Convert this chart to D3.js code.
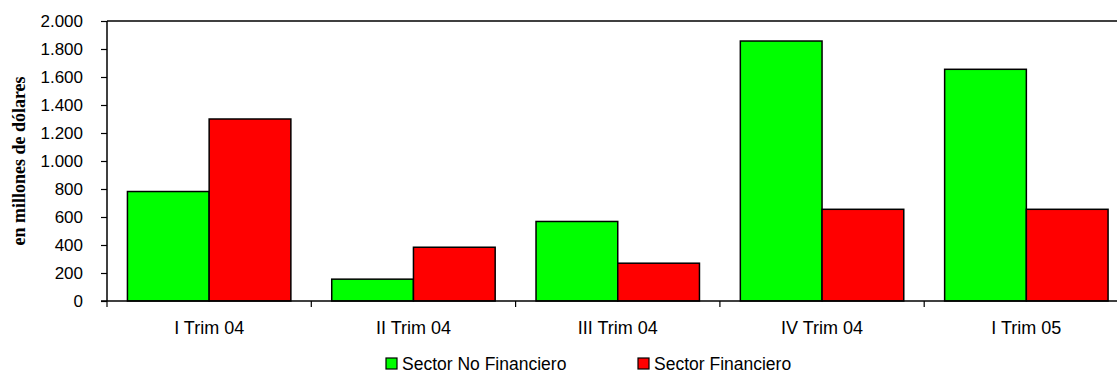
<!DOCTYPE html>
<html>
<head>
<meta charset="utf-8">
<script src="https://cdn.jsdelivr.net/npm/d3@7"></script>
<style>
  body { margin: 0; background: #fff; }
  svg { display: block; }
  text { font-family: "Liberation Sans", Arial, sans-serif; fill: #000; }
</style>
</head>
<body>
<div class="chart"></div>
<script>
(function() {
  'use strict';

  const WIDTH = 1117;
  const HEIGHT = 374;

  // Data
  const CATEGORIES = ['I Trim 04', 'II Trim 04', 'III Trim 04', 'IV Trim 04', 'I Trim 05'];
  const SERIES = ['Sector No Financiero', 'Sector Financiero'];
  const NO_FINANCIERO = [782, 156, 568, 1857, 1655];
  const FINANCIERO = [1300, 384, 270, 655, 655];
  const COLORS = ['#00ff00', '#ff0000'];
  const Y_TICKS = [0, 200, 400, 600, 800, 1000, 1200, 1400, 1600, 1800, 2000];

  const m = { left: 107, top: 21, bottom: 301 };
  const bandW = 204.3;
  const plotRight = m.left + bandW * CATEGORIES.length;

  const svg = d3.select('.chart')
    .append('svg')
    .attr('width', WIDTH)
    .attr('height', HEIGHT);

  const x = d3.scaleBand()
    .domain(CATEGORIES)
    .range([m.left, plotRight])
    .paddingInner(0)
    .paddingOuter(0);

  // 20% of each band is left empty, half on each side
  const x1 = d3.scaleBand()
    .domain(SERIES)
    .range([0, x.bandwidth()])
    .paddingOuter(0.25)
    .paddingInner(0);

  const y = d3.scaleLinear()
    .domain([0, 2000])
    .range([m.bottom, m.top]);

  const fmt = d3.formatLocale({ decimal: ',', thousands: '.', grouping: [3], currency: ['', ''] }).format(',');

  // Top border
  svg.append('line')
    .attr('x1', m.left).attr('x2', plotRight)
    .attr('y1', y(2000)).attr('y2', y(2000))
    .attr('stroke', '#000').attr('stroke-width', 1.5);

  // Bars
  const values = [NO_FINANCIERO, FINANCIERO];
  for (let s = 0; s < SERIES.length; ++s) {
    svg.append('g')
      .attr('class', 'series s' + s)
      .selectAll('rect')
      .data(CATEGORIES)
      .enter().append('rect')
      .attr('x', function(d) { return x(d) + x1(SERIES[s]); })
      .attr('y', function(d, i) { return y(values[s][i]); })
      .attr('width', x1.bandwidth())
      .attr('height', function(d, i) { return y(0) - y(values[s][i]); })
      .attr('fill', COLORS[s])
      .attr('stroke', '#000')
      .attr('stroke-width', 1.5);
  }

  // Y axis
  const yAxis = svg.append('g')
    .attr('transform', 'translate(' + m.left + ',0)')
    .call(d3.axisLeft(y).tickValues(Y_TICKS).tickFormat(fmt).tickSize(6).tickPadding(18));
  yAxis.select('.domain').attr('stroke', '#000').attr('stroke-width', 1.5).attr('d', 'M0,' + m.top + 'V' + m.bottom);
  yAxis.selectAll('.tick line').attr('stroke', '#000').attr('stroke-width', 1.2);
  yAxis.selectAll('text')
    .style('font-family', '"Liberation Sans", Arial, sans-serif')
    .style('font-size', '17px')
    .attr('fill', '#000');

  // X axis
  const xAxis = svg.append('g')
    .attr('transform', 'translate(0,' + m.bottom + ')')
    .call(d3.axisBottom(x).tickSize(0).tickPadding(20));
  xAxis.select('.domain').attr('stroke', '#000').attr('stroke-width', 1.5).attr('d', 'M' + (m.left - 6) + ',0H' + plotRight);
  xAxis.selectAll('text')
    .style('font-family', '"Liberation Sans", Arial, sans-serif')
    .style('font-size', '18px')
    .attr('fill', '#000');

  // Category separators (tick marks at band edges)
  xAxis.selectAll('.sep')
    .data(CATEGORIES)
    .enter().append('line')
    .attr('class', 'sep')
    .attr('x1', function(d) { return x(d); })
    .attr('x2', function(d) { return x(d); })
    .attr('y1', 0).attr('y2', 6)
    .attr('stroke', '#000').attr('stroke-width', 1.2);

  // Y axis title
  svg.append('text')
    .attr('transform', 'translate(25,' + 161 + ') rotate(-90)')
    .attr('text-anchor', 'middle')
    .style('font-family', '"Liberation Serif", "Times New Roman", serif')
    .style('font-weight', 'bold')
    .style('font-size', '18px')
    .text('en millones de dólares');

  // Legend
  const LEGEND_X = [386, 638];
  const legend = svg.append('g').attr('class', 'legend');
  for (let s = 0; s < SERIES.length; ++s) {
    legend.append('rect')
      .attr('x', LEGEND_X[s]).attr('y', 358)
      .attr('width', 11).attr('height', 11)
      .attr('fill', COLORS[s])
      .attr('stroke', '#000').attr('stroke-width', 1.2);
    legend.append('text')
      .attr('x', LEGEND_X[s] + 16).attr('y', 370)
      .style('font-size', '17.5px')
      .text(SERIES[s]);
  }
})();
</script>
</body>
</html>
